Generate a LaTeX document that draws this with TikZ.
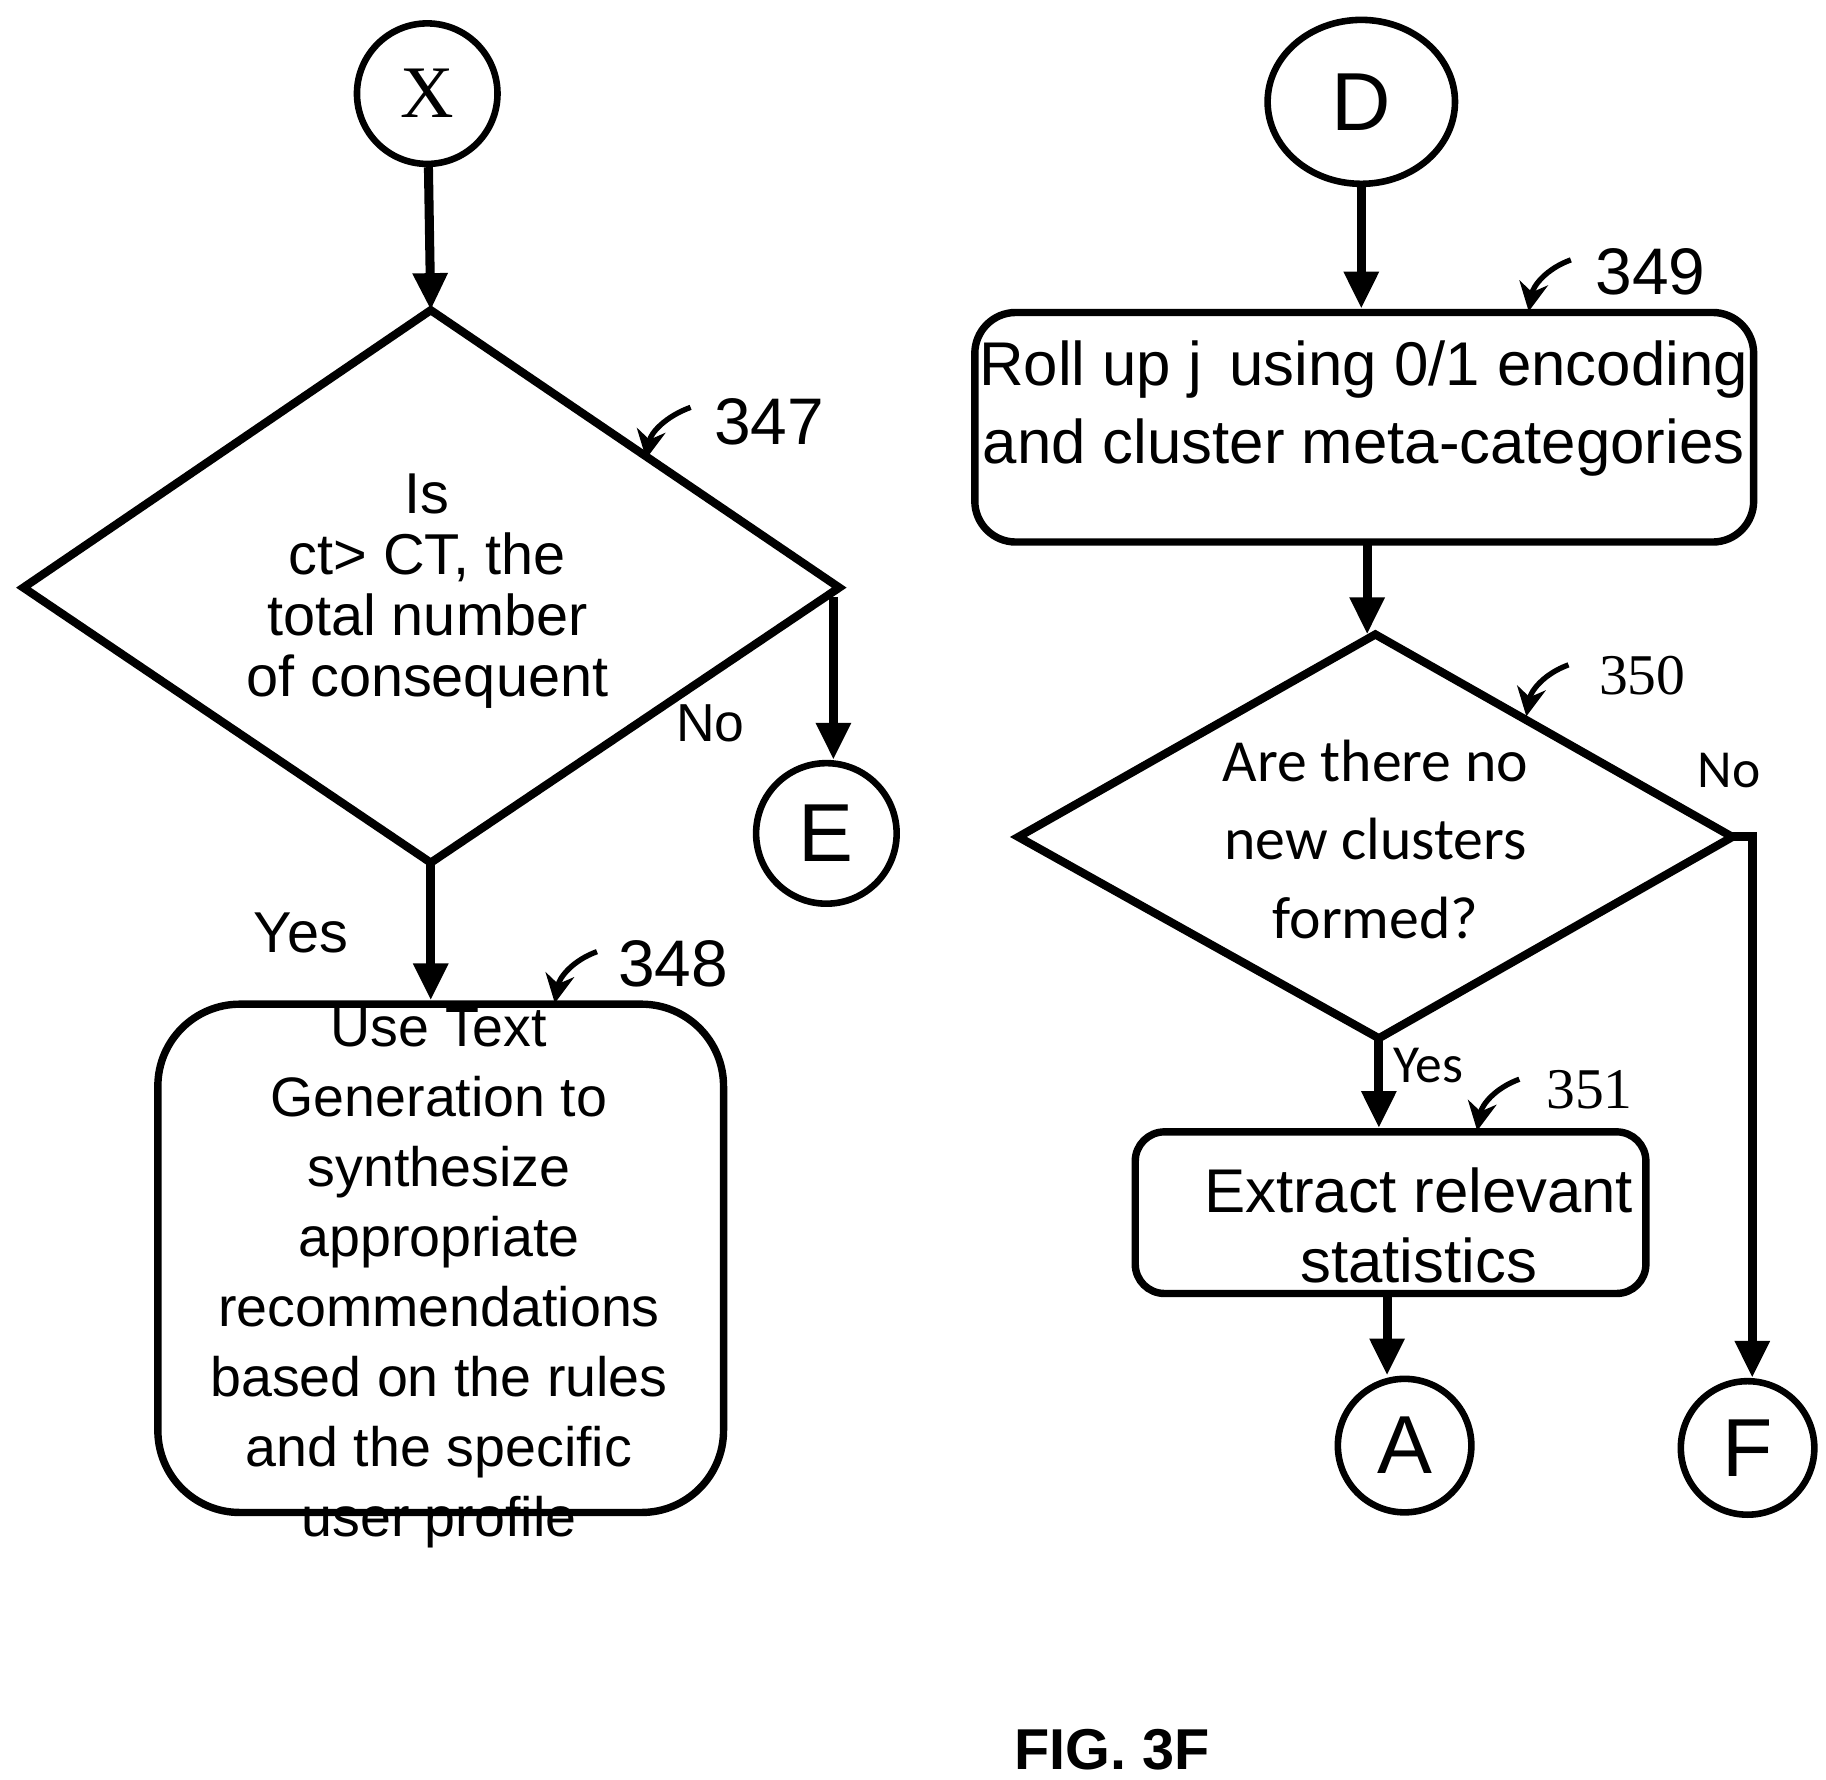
\documentclass[tikz,border=0pt]{standalone}
\usepackage{fontspec}
\setmainfont{Liberation Sans}
\newfontfamily\calfont{Carlito}
\newfontfamily\seriffont{Liberation Serif}
\usetikzlibrary{shapes.geometric,arrows.meta}
\begin{document}
\begin{tikzpicture}[x=0.01cm,y=-0.01cm,
  line width=1.6pt,
  arr/.style={-{Triangle[length=9pt,width=8pt]},line width=2.2pt},
  hook/.style={-{Stealth[length=7pt,width=7pt]},line width=1.3pt},
  circ/.style={draw,circle,minimum size=#1,inner sep=0pt},
  box/.style={draw,rectangle,line width=1.8pt},
  lab/.style={font=\fontsize{16}{18}\selectfont},
  txt/.style={align=center}]
\useasboundingbox (0,0) rectangle (1560,1520);
% left side
\node[circ=1.2cm,line width=1.6pt,font=\seriffont\fontsize{18}{20}\selectfont] (X) at (365,80) {X};
\draw[line width=2pt] (368,265) coordinate (dt) -- (717,502) coordinate (dr) -- (368,737) coordinate (db) -- (20,502) coordinate (dl) -- cycle;
\node[txt,font=\fontsize{14}{14.8}\selectfont] (t347) at (365,505) {Is\\ct> CT, the\\total number\\of consequent};
\draw[arr] (X) -- (dt);
\node[lab] (n347) at (657,360) {347};
\coordinate (h1a) at (590,348); \coordinate (h1b) at (552,392);
\draw[hook] (h1a) to[out=200,in=80] (h1b);
\node[circ=1.2cm,line width=1.6pt,font=\fontsize{20}{22}\selectfont] (E) at (706,712) {E};
\coordinate (er) at (712,510);
\draw[arr] (er) -- (E.north -| er);
\node[font=\fontsize{13}{15}\selectfont] (no1) at (607,618) {No};
\node[box,rounded corners=0.7cm,minimum width=4.83cm,minimum height=4.34cm] (b348) at (376.5,1075) {};
\node[txt,font=\fontsize{13.5}{17}\selectfont] (t348) at (375,1092) {Use Text\\Generation to\\synthesize\\appropriate\\recommendations\\based on the rules\\and the specific\\user profile};
\draw[arr] (db) -- (b348.north -| db);
\node[font=\fontsize{14}{16}\selectfont] (yes1) at (257,797) {Yes};
\node[lab] (n348) at (575,823) {348};
\coordinate (h2a) at (510,813); \coordinate (h2b) at (474,857);
\draw[hook] (h2a) to[out=200,in=80] (h2b);
% right side
\node[draw,ellipse,minimum width=1.6cm,minimum height=1.4cm,line width=1.6pt,font=\fontsize{20}{22}\selectfont] (D) at (1163,87) {D};
\node[box,rounded corners=0.35cm,minimum width=6.65cm,minimum height=1.96cm] (b349) at (1165.5,365) {};
\node[txt,font=\fontsize{15}{19}\selectfont] (t349) at (1165,349) {Roll up j\, using 0/1 encoding\\and cluster meta-categories};
\draw[arr] (D) -- (b349.north -| D);
\node[lab] (n349) at (1410,232) {349};
\coordinate (h3a) at (1342,222); \coordinate (h3b) at (1306,266);
\draw[hook] (h3a) to[out=200,in=80] (h3b);
\draw[line width=2pt] (1175,542) coordinate (et) -- (1480,715) coordinate (er2) -- (1178,887) coordinate (eb) -- (870,715) coordinate (el) -- cycle;
\coordinate (b49s) at (1168,463); \coordinate (b49e) at (1168,542);
\draw[arr] (b49s) -- (b49e);
\node[txt,font=\calfont\fontsize{14.5}{19}\selectfont] (t350) at (1175,717) {Are there no\\new clusters\\formed?};
\node[font=\seriffont\fontsize{14}{16}\selectfont] (n350) at (1403,577) {350};
\coordinate (h4a) at (1340,568); \coordinate (h4b) at (1304,612);
\draw[hook] (h4a) to[out=200,in=80] (h4b);
\node[circ=1.14cm,line width=1.6pt,font=\fontsize{20}{22}\selectfont] (F) at (1493,1237) {F};
\coordinate (fc) at (1497,715);
\draw[arr] (er2) -- (fc) -- (fc |- F.north);
\node[font=\calfont\fontsize{13}{15}\selectfont] (no2) at (1477,658) {No};
\node[box,rounded corners=0.25cm,minimum width=4.36cm,minimum height=1.38cm] (b351) at (1188,1036) {};
\node[txt,font=\fontsize{15}{17}\selectfont] (t351) at (1212,1047) {Extract relevant\\statistics};
\draw[arr] (eb) -- (eb |- b351.north);
\node[font=\calfont\fontsize{13}{15}\selectfont] (yes2) at (1220,910) {Yes};
\node[font=\seriffont\fontsize{14}{16}\selectfont] (n351) at (1358,931) {351};
\coordinate (h5a) at (1298,922); \coordinate (h5b) at (1262,966);
\draw[hook] (h5a) to[out=200,in=80] (h5b);
\node[circ=1.14cm,line width=1.6pt,font=\fontsize{20}{22}\selectfont] (A) at (1200,1235) {A};
\coordinate (as) at (1185,1105);
\draw[arr] (as) -- (A.north -| as);
\node[font=\bfseries\fontsize{14}{16}\selectfont] (fig) at (950,1495) {FIG. 3F};
\end{tikzpicture}
\end{document}
